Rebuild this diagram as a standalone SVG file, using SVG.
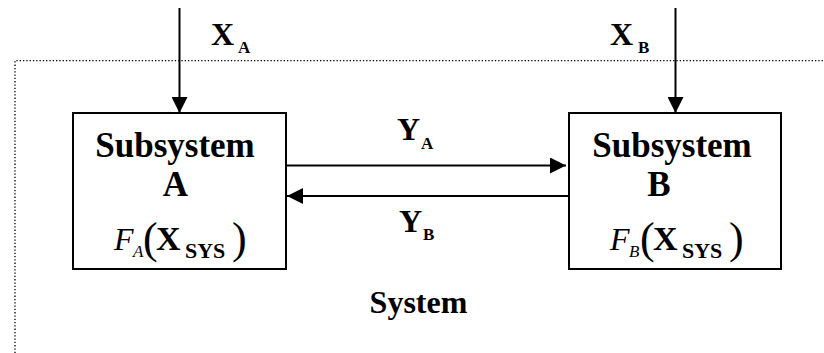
<svg xmlns="http://www.w3.org/2000/svg" width="824" height="353" viewBox="0 0 824 353">
<style>
.bg{fill:#ffffff}
.box{fill:#ffffff;stroke:#000000;stroke-width:2}
.wire{stroke:#000000;stroke-width:2;fill:none}
.dots{stroke:#000000;stroke-width:1.3;stroke-dasharray:1.3 2;fill:none}
.t{font-family:"Liberation Serif","Times New Roman",serif;font-weight:bold;fill:#000000}
.big{font-size:32px}
.lbl{font-size:35px}
.sub{font-size:17px}
.it{font-family:"Liberation Serif","Times New Roman",serif;font-style:italic;fill:#000000}
.par{font-family:"Liberation Serif","Times New Roman",serif;font-size:44px;fill:#000000}
</style>
<defs>
<marker id="ah" markerWidth="16" markerHeight="16" refX="16" refY="8" orient="auto" markerUnits="userSpaceOnUse">
<path d="M0,0 L16,8 L0,16 z" fill="#000000"/>
</marker>
</defs>
<rect class="bg" x="0" y="0" width="824" height="353"/>
<g id="system">
<path class="dots" d="M15,353 L15,60.7 L824,60.7"/>
<text class="t big" x="418.5" y="313" text-anchor="middle">System</text>
</g>
<g id="subsystemA">
<rect class="box" x="73" y="113" width="213" height="156"/>
<text class="t lbl" x="175" y="157" text-anchor="middle">Subsystem</text>
<text class="t lbl" x="175.5" y="196" text-anchor="middle">A</text>
<text class="it" x="114" y="250" font-size="32">F</text>
<text class="it" x="133" y="257" font-size="17">A</text>
<text class="par" x="143" y="253">(</text>
<text class="t" x="156" y="250" font-size="34">X</text>
<text class="t" x="185" y="258" font-size="22">SYS</text>
<text class="par" x="232" y="253">)</text>
</g>
<g id="subsystemB">
<rect class="box" x="569" y="113" width="212" height="156"/>
<text class="t lbl" x="672" y="157" text-anchor="middle">Subsystem</text>
<text class="t lbl" x="659" y="196" text-anchor="middle">B</text>
<text class="it" x="610" y="250" font-size="32">F</text>
<text class="it" x="629" y="257" font-size="17">B</text>
<text class="par" x="640" y="253">(</text>
<text class="t" x="653" y="250" font-size="34">X</text>
<text class="t" x="682" y="258" font-size="22">SYS</text>
<text class="par" x="729" y="253">)</text>
</g>
<g id="connectors">
<line class="wire" x1="179.5" y1="8" x2="179.5" y2="113" marker-end="url(#ah)"/>
<line class="wire" x1="675.5" y1="8" x2="675.5" y2="113" marker-end="url(#ah)"/>
<line class="wire" x1="286" y1="165.5" x2="566" y2="165.5" marker-end="url(#ah)"/>
<line class="wire" x1="569" y1="196" x2="287" y2="196" marker-end="url(#ah)"/>
</g>
<g id="labels">
<text class="t big" x="211" y="45">X</text>
<text class="t sub" x="238" y="53">A</text>
<text class="t big" x="610" y="45">X</text>
<text class="t sub" x="638" y="53">B</text>
<text class="t big" x="397" y="140">Y</text>
<text class="t sub" x="421" y="149">A</text>
<text class="t big" x="399" y="232">Y</text>
<text class="t sub" x="423" y="240">B</text>
</g>
</svg>
